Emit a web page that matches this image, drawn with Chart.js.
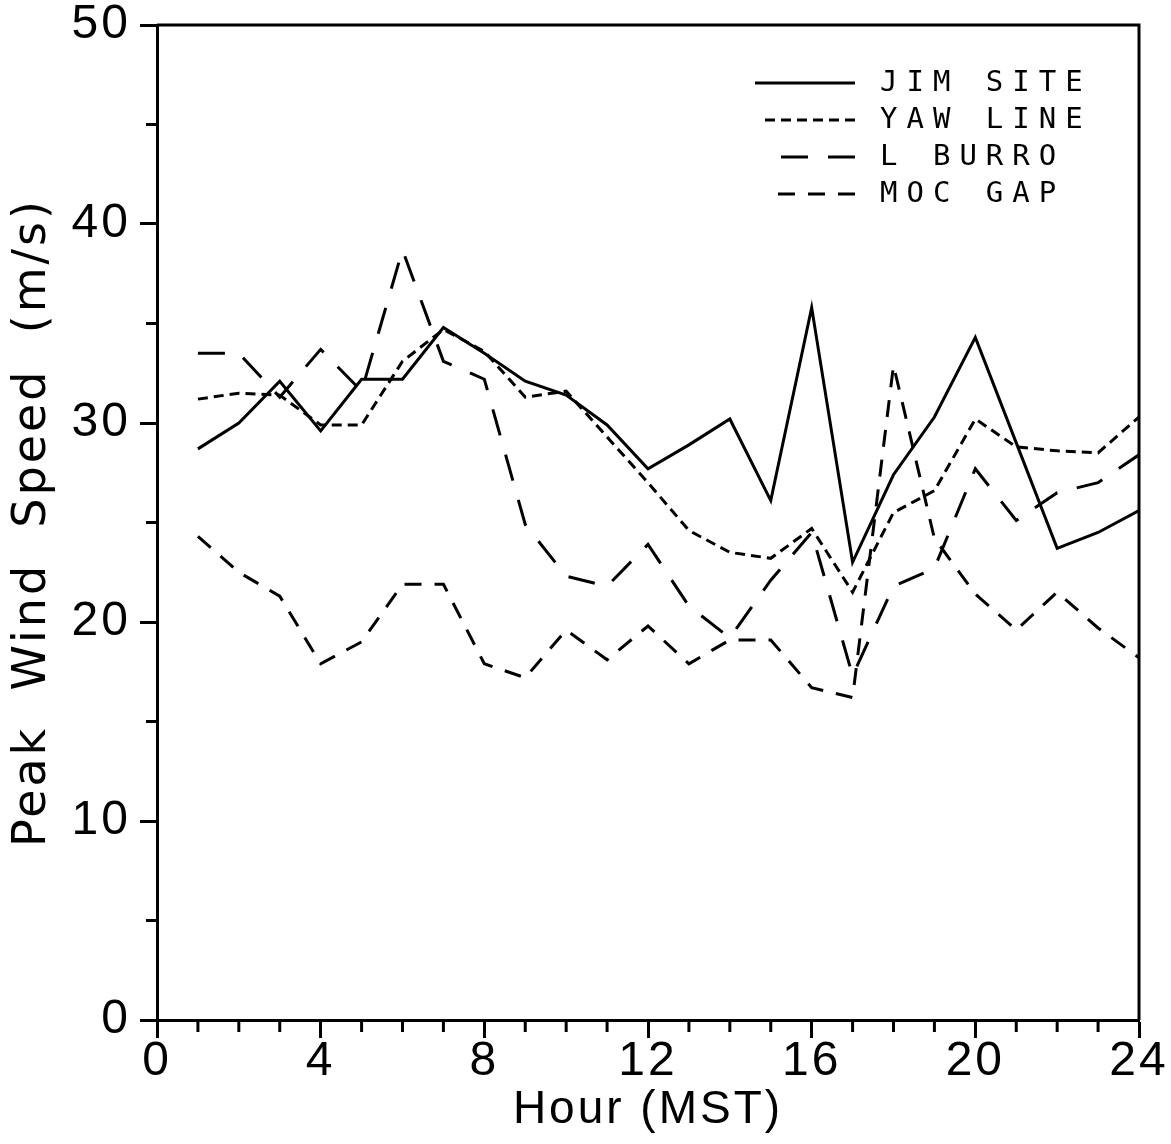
<!DOCTYPE html>
<html><head><meta charset="utf-8">
<script src="https://cdn.jsdelivr.net/npm/chart.js@4.4.1/dist/chart.umd.min.js"></script>
<style>html,body{margin:0;padding:0;background:#fff;}canvas{display:block;}</style>
</head><body>
<canvas id="c" width="1171" height="1144"></canvas>
<script>
const hours   = [1,2,3,4,5,6,7,8,9,10,11,12,13,14,15,16,17,18,19,20,21,22,23,24];
const jimSite = [28.7,30.0,32.1,29.6,32.2,32.2,34.8,33.5,32.1,31.4,29.9,27.7,28.9,30.2,26.1,35.8,23.0,27.4,30.3,34.3,29.0,23.7,24.5,25.6];
const yawLine = [31.2,31.5,31.4,29.9,29.9,33.1,34.7,33.6,31.3,31.6,29.3,27.0,24.6,23.5,23.2,24.7,21.5,25.5,26.6,30.2,28.8,28.6,28.5,30.3];
const lBurro  = [33.5,33.5,31.3,33.7,31.6,38.7,33.1,32.2,24.9,22.3,21.8,23.9,20.8,19.2,22.1,24.5,17.3,21.8,22.7,27.7,25.1,26.5,27.0,28.4];
const mocGap  = [24.3,22.5,21.3,17.9,19.0,21.9,21.9,17.9,17.2,19.6,18.1,19.8,17.9,19.1,19.1,16.7,16.2,32.9,24.2,21.4,19.6,21.5,19.7,18.2];
const seriesNames = ['JIM SITE','YAW LINE','L BURRO','MOC GAP'];
const xMajorTicks = [0,4,8,12,16,20,24];
const xMinorTicks = [1,2,3,5,6,7,9,10,11,13,14,15,17,18,19,21,22,23];
const yMajorTicks = [0,10,20,30,40,50];
const yMinorTicks = [5,15,25,35,45];
const xTitle = 'Hour (MST)';
const yTitle = 'Peak  Wind  Speed  (m/s)';

const toPts = arr => hours.map((h,i)=>({x:h,y:arr[i]}));
const seriesData = [jimSite, yawLine, lBurro, mocGap];
const dashes = [[], [10,6], [27,20], [17,13]];

const SANS = '"Liberation Sans", Arial, sans-serif';

// length of a legend sample that ends on a whole dash
function sampleLength(dash, maxLen){
  if (!dash || !dash.length) return maxLen;
  const d = dash[0], g = dash[1];
  const n = Math.floor((maxLen + g) / (d + g));
  return n*d + (n-1)*g;
}

const framePlugin = {
  id:'frame',
  beforeDraw(chart){
    const c = chart.ctx;
    c.save(); c.fillStyle='#fff'; c.fillRect(0,0,chart.width,chart.height); c.restore();
    c.letterSpacing = '3px';
  },
  afterDraw(chart){
    const ctx = chart.ctx, a = chart.chartArea;
    const xs = chart.scales.x, ys = chart.scales.y;
    ctx.save();
    ctx.letterSpacing = '0px';
    ctx.strokeStyle = '#000';
    ctx.lineWidth = 3;
    ctx.setLineDash([]);
    ctx.beginPath();
    ctx.moveTo(a.left, a.top); ctx.lineTo(a.right, a.top); ctx.lineTo(a.right, a.bottom);
    ctx.stroke();
    xMinorTicks.forEach(v=>{
      const px = xs.getPixelForValue(v);
      ctx.beginPath(); ctx.moveTo(px, a.bottom); ctx.lineTo(px, a.bottom+12); ctx.stroke();
    });
    yMinorTicks.forEach(v=>{
      const py = ys.getPixelForValue(v);
      ctx.beginPath(); ctx.moveTo(a.left, py); ctx.lineTo(a.left-11, py); ctx.stroke();
    });
    // legend
    chart.data.datasets.forEach((ds,i)=>{
      const y = a.top + 58 + i*37;
      const xr = a.right - 284;
      const len = sampleLength(ds.borderDash, 100);
      ctx.setLineDash(ds.borderDash || []);
      ctx.lineWidth = 3;
      ctx.beginPath(); ctx.moveTo(xr, y); ctx.lineTo(xr-len, y); ctx.stroke();
      ctx.setLineDash([]);
      ctx.fillStyle = '#000';
      ctx.font = '29px "DejaVu Sans Mono", monospace';
      ctx.letterSpacing = '9px';
      ctx.textBaseline = 'middle';
      ctx.textAlign = 'left';
      ctx.fillText(ds.label, a.right - 259, y);
      ctx.letterSpacing = '0px';
    });
    ctx.restore();
    ctx.letterSpacing = '0px';
  }
};

const zeroPad = s => { s.paddingTop = 0; s.paddingBottom = 0; s.paddingLeft = 0; s.paddingRight = 0; };

new Chart(document.getElementById('c'), {
  type:'line',
  data:{
    datasets: seriesNames.map((n,i)=>({
      label:n, data:toPts(seriesData[i]),
      borderColor:'#000', borderWidth:3, borderDash:dashes[i],
      pointRadius:0, tension:0, fill:false,
      borderCapStyle:'butt', borderJoinStyle:'miter'
    }))
  },
  options:{
    responsive:false, animation:false, devicePixelRatio:1,
    layout:{padding:{top:25,right:32,left:0,bottom:0}},
    plugins:{legend:{display:false}, tooltip:{enabled:false}},
    scales:{
      x:{
        type:'linear', position:'bottom', min:0, max:24,
        afterBuildTicks: s => { s.ticks = xMajorTicks.map(v=>({value:v})); },
        ticks:{font:{family:SANS,size:48,lineHeight:1}, color:'#000', padding:0, autoSkip:false, maxRotation:0, minRotation:0, callback:v=>String(v)},
        grid:{drawOnChartArea:false, drawTicks:true, tickLength:18, tickWidth:3, tickColor:'#000'},
        border:{display:true, color:'#000', width:3},
        title:{display:true, text:xTitle, color:'#000', font:{family:SANS,size:46}, padding:{top:0,bottom:6}},
        afterFit: s => { s.height = 124; zeroPad(s); }
      },
      y:{
        type:'linear', position:'left', min:0, max:50,
        afterBuildTicks: s => { s.ticks = yMajorTicks.map(v=>({value:v})); },
        ticks:{font:{family:SANS,size:48,lineHeight:1}, color:'#000', padding:9, autoSkip:false, callback:v=>String(v)},
        grid:{drawOnChartArea:false, drawTicks:true, tickLength:17, tickWidth:3, tickColor:'#000'},
        border:{display:true, color:'#000', width:3},
        title:{display:true, text:yTitle, color:'#000', font:{family:'"DejaVu Sans", sans-serif',size:46}, padding:{top:5,bottom:0}},
        afterFit: s => { s.width = 157; zeroPad(s); }
      }
    }
  },
  plugins:[framePlugin]
});
</script>
</body></html>
